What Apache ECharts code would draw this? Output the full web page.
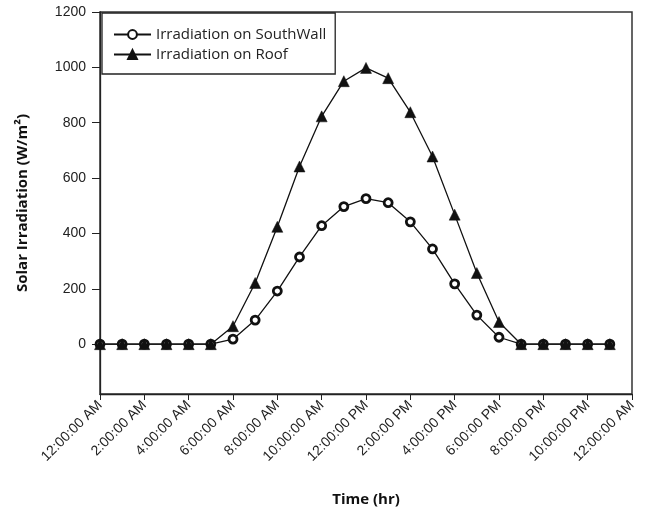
<!DOCTYPE html>
<html>
<head>
<meta charset="utf-8">
<script src="https://cdn.jsdelivr.net/npm/echarts@6/dist/echarts.min.js"></script>
<style>
  html, body { margin: 0; padding: 0; background: #fff; }
  #main { width: 650px; height: 512px; }
</style>
</head>
<body>
<div id="main"></div>
<script>
// hours of the day, 0 = 12:00 AM
var hours = [0,1,2,3,4,5,6,7,8,9,10,11,12,13,14,15,16,17,18,19,20,21,22,23];
var southWall = [0,0,0,0,0,0,18,87,192,315,428,497,526,511,442,344,218,105,25,0,0,0,0,0];
var roof = [0,0,0,0,0,0,65,221,424,642,823,950,998,961,838,678,468,257,80,0,0,0,0,0];

var xTicks = [0,2,4,6,8,10,12,14,16,18,20,22,24];
var xTickLabels = ['12:00:00 AM','2:00:00 AM','4:00:00 AM','6:00:00 AM','8:00:00 AM','10:00:00 AM',
  '12:00:00 PM','2:00:00 PM','4:00:00 PM','6:00:00 PM','8:00:00 PM','10:00:00 PM','12:00:00 AM'];
var yTicks = [0,200,400,600,800,1000,1200];

function pairs(vals) {
  return hours.map(function (h, i) { return [h, vals[i]]; });
}

var chart = echarts.init(document.getElementById('main'));

var labelFont = { fontFamily: 'Liberation Sans', fontSize: 14, color: '#222' };

var option = {
  animation: false,
  backgroundColor: '#fff',
  grid: { left: 100, right: 18, top: 12, bottom: 118, show: true, borderColor: '#333', borderWidth: 1.5 },
  legend: {
    orient: 'vertical',
    left: 102, top: 13,
    padding: [14, 9, 12, 11],
    itemGap: 5,
    itemWidth: 37, itemHeight: 11,
    borderColor: '#222', borderWidth: 1.3,
    backgroundColor: '#fff',
    textStyle: { fontFamily: 'Open Sans', fontSize: 15, color: '#222' },
    data: ['Irradiation on SouthWall', 'Irradiation on Roof']
  },
  xAxis: {
    type: 'value',
    min: 0, max: 24,
    name: 'Time (hr)',
    nameLocation: 'middle',
    nameGap: 98,
    nameTextStyle: { fontFamily: 'Open Sans', fontSize: 15, fontWeight: 'bold', color: '#111' },
    splitLine: { show: false },
    axisLine: { onZero: false, lineStyle: { color: '#222', width: 1.3 } },
    axisTick: { customValues: xTicks, length: 6, lineStyle: { color: '#222' } },
    axisLabel: Object.assign({
      customValues: xTicks,
      rotate: 45,
      margin: 9,
      formatter: function (v) { return xTickLabels[xTicks.indexOf(v)]; }
    }, labelFont)
  },
  yAxis: {
    type: 'value',
    min: -180, max: 1200,
    name: 'Solar Irradiation (W/m²)',
    nameLocation: 'middle',
    nameGap: 70,
    nameTextStyle: { fontFamily: 'Open Sans', fontSize: 15, fontWeight: 'bold', color: '#111' },
    splitLine: { show: false },
    axisLine: { show: true, onZero: false, lineStyle: { color: '#222', width: 1.3 } },
    axisTick: { show: true, customValues: yTicks, length: 8, lineStyle: { color: '#222' } },
    axisLabel: Object.assign({
      customValues: yTicks,
      margin: 14,
      formatter: function (v) { return String(v); }
    }, labelFont)
  },
  series: [
    {
      name: 'Irradiation on SouthWall',
      type: 'line',
      data: pairs(southWall),
      symbol: 'circle',
      symbolSize: 8,
      lineStyle: { color: '#111', width: 1.3 },
      itemStyle: { color: '#fff', borderColor: '#111', borderWidth: 2.8 }
    },
    {
      name: 'Irradiation on Roof',
      type: 'line',
      data: pairs(roof),
      symbol: 'triangle',
      symbolSize: 11,
      lineStyle: { color: '#111', width: 1.3 },
      itemStyle: { color: '#111', borderColor: '#111', borderWidth: 0.5 }
    }
  ]
};

chart.setOption(option);
</script>
</body>
</html>
